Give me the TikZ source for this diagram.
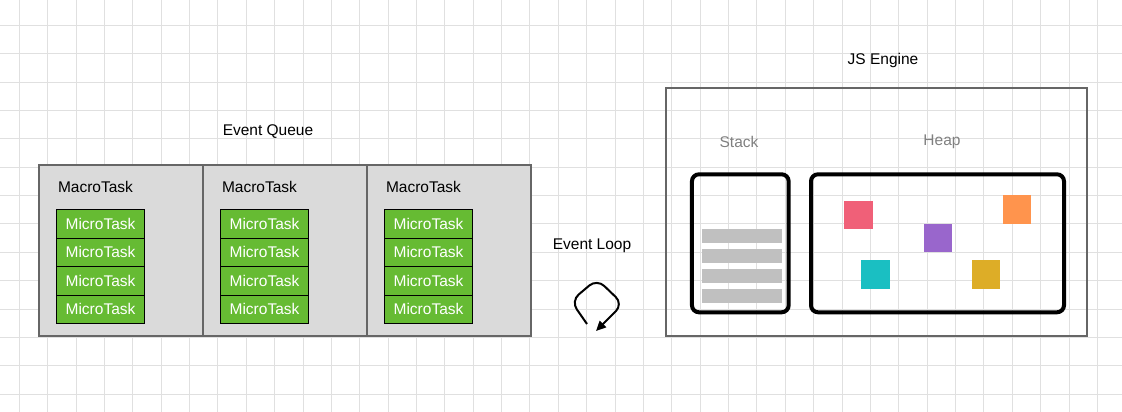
\documentclass[tikz,border=0pt]{standalone}
\usepackage{fontspec}
\setmainfont{Liberation Sans}
\usetikzlibrary{arrows.meta}
\definecolor{gridgray}{HTML}{E0E0E0}
\definecolor{queuegray}{HTML}{DADADA}
\definecolor{framegray}{HTML}{666666}
\definecolor{taskgreen}{HTML}{66BB33}
\definecolor{bargray}{HTML}{C0C0C0}
\definecolor{heapred}{HTML}{F06078}
\definecolor{heapteal}{HTML}{1ABFC2}
\definecolor{heappurple}{HTML}{9966CC}
\definecolor{heaporange}{HTML}{FF944D}
\definecolor{heapyellow}{HTML}{DDAD27}
\tikzset{
  gridline/.style={draw=gridgray, line width=1pt},
  macro/.style={draw=framegray, fill=queuegray, line width=2pt, minimum width=164pt, minimum height=170.5pt, inner sep=0pt},
  micro/.style={draw=black, fill=taskgreen, text=white, line width=0.8pt, minimum width=88pt, minimum height=28.4pt, inner sep=0pt},
  label/.style={inner sep=0pt},
  memory/.style={draw=black, line width=4pt, rounded corners=7pt, inner sep=0pt},
  bar/.style={fill=bargray, minimum width=80pt, minimum height=13.7pt, inner sep=0pt},
  cell/.style={minimum size=28.5pt, inner sep=0pt},
}
\begin{document}
\begin{tikzpicture}[x=1pt, y=-1pt, font=\fontsize{15.5}{18}\selectfont]
\useasboundingbox (0,0) rectangle (1122,412);
\begin{scope}
\clip (0,0) rectangle (1122,412);
\foreach \k in {0,...,39}
  \draw[gridline] (19.3+28.37*\k,0) -- ++(0,412);
\foreach \k in {0,...,14}
  \draw[gridline] (0,25.3+28.37*\k) -- ++(1122,0);
\end{scope}
% event queue
\node[label] (queue) at (268,132) {Event Queue};
\foreach \c/\x in {1/121.3, 2/285.3, 3/449.3} {
  \node[macro] (m\c) at (\x,250.25) {};
  \node[label, anchor=west] (mt\c) at (\x-63.5,186.5) {MacroTask};
  \foreach \r/\y in {1/223.9, 2/252.3, 3/280.7, 4/309.1}
    \node[micro] (u\c\r) at (\x-20.8,\y) {MicroTask};
}
% event loop
\node[label] (loop) at (592,246) {Event Loop};
\coordinate (loopstart) at (587,324);
\coordinate (loopend) at (596,331);
\draw[line width=2pt, rounded corners=10pt, -{Triangle[length=10pt, width=9pt]}]
  (loopstart) -- (571,301) -- (597,279) -- (623,304) -- (loopend);
% js engine
\node[label] (engine) at (883,60) {JS Engine};
\node[draw=framegray, line width=2pt, minimum width=421.3pt, minimum height=248pt, inner sep=0pt] (js) at (876.7,212.3) {};
\node[label, text=gray] (stacklbl) at (739,142) {Stack};
\node[label, text=gray] (heaplbl) at (942,142) {Heap};
\node[memory, minimum width=96.7pt, minimum height=138pt] (stack) at (740.3,243.3) {};
\node[memory, minimum width=253pt, minimum height=138pt] (heap) at (937.5,243.3) {};
\foreach \r/\y in {1/235.9, 2/255.9, 3/275.9, 4/295.9}
  \node[bar] (b\r) at (742,\y) {};
\node[cell, fill=heapred] (red) at (858.5,215) {};
\node[cell, fill=heapteal] (teal) at (875.5,274.5) {};
\node[cell, fill=heappurple] (purple) at (938,238) {};
\node[cell, fill=heaporange] (orange) at (1017,209.5) {};
\node[cell, fill=heapyellow] (yellow) at (986,274.5) {};
\end{tikzpicture}
\end{document}
